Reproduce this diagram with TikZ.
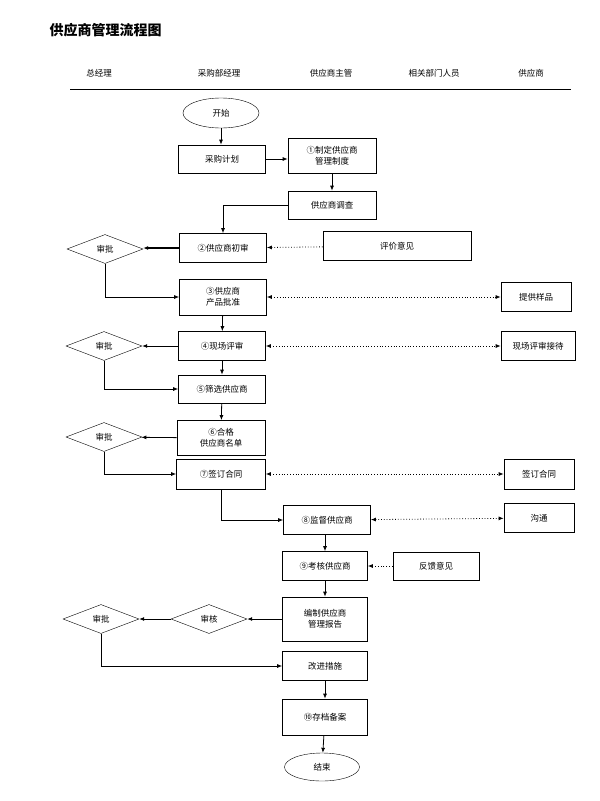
\documentclass[tikz,border=0pt]{standalone}
\usepackage{fontspec}
\setmainfont{Noto Sans CJK SC}
\usetikzlibrary{shapes.geometric,arrows.meta}
\begin{document}
\begin{tikzpicture}[x=1pt,y=-1pt,
  box/.style={draw,line width=0.7pt,inner sep=0pt,font=\fontsize{8.5}{11}\selectfont,align=center},
  dia/.style={draw,diamond,aspect=2.6,inner sep=0pt,minimum width=76pt,minimum height=29pt,font=\fontsize{8.5}{10}\selectfont},
  ell/.style={draw,ellipse,inner sep=0pt,font=\fontsize{8.5}{10}\selectfont},
  hd/.style={font=\fontsize{8.5}{10}\selectfont},
  arr/.style={-{Latex[length=5pt,width=4pt]},line width=0.8pt},
  dot/.style={{Latex[length=5pt,width=4pt]}-{Latex[length=5pt,width=4pt]},dotted,line width=0.8pt},
  dot1/.style={-{Latex[length=5pt,width=4pt]},dotted,line width=0.8pt}]
\useasboundingbox (0,0) rectangle (600,801);
\node[anchor=west,font=\fontsize{14}{16}\bfseries\selectfont] (title) at (46,30) {供应商管理流程图};
\node[hd] (h1) at (99,73) {总经理};
\node[hd] (h2) at (219,73) {采购部经理};
\node[hd] (h3) at (331,73) {供应商主管};
\node[hd] (h4) at (434,73) {相关部门人员};
\node[hd] (h5) at (531,73) {供应商};
\draw[line width=0.6pt] (70,89) -- (571,89);

\node[ell,minimum width=76pt,minimum height=30pt] (start) at (221,113) {开始};
\node[box,minimum width=87pt,minimum height=28pt] (plan) at (222,159) {采购计划};
\node[box,minimum width=88pt,minimum height=35pt] (s1) at (332,156) {①制定供应商\\管理制度};
\node[box,minimum width=88pt,minimum height=28pt] (inv) at (332,205) {供应商调查};
\node[box,minimum width=87pt,minimum height=29pt] (s2) at (223,248) {②供应商初审};
\node[box,minimum width=148pt,minimum height=29pt] (eval) at (397,246) {评价意见};
\node[dia] (d1) at (105,249) {审批};
\node[box,minimum width=87pt,minimum height=36pt] (s3) at (223,297) {③供应商\\产品批准};
\node[box,minimum width=70pt,minimum height=29pt] (samp) at (536,297) {提供样品};
\node[box,minimum width=87pt,minimum height=29pt] (s4) at (222,346) {④现场评审};
\node[dia] (d2) at (104,346) {审批};
\node[box,minimum width=74pt,minimum height=29pt] (recv) at (538,346) {现场评审接待};
\node[box,minimum width=87pt,minimum height=28pt] (s5) at (222,389) {⑤筛选供应商};
\node[box,minimum width=88pt,minimum height=35pt] (s6) at (221,438) {⑥合格\\供应商名单};
\node[dia] (d3) at (104,437) {审批};
\node[box,minimum width=89pt,minimum height=30pt] (s7) at (221,474) {⑦签订合同};
\node[box,minimum width=70pt,minimum height=30pt] (sign) at (539,474) {签订合同};
\node[box,minimum width=87pt,minimum height=29pt] (s8) at (327,520) {⑧监督供应商};
\node[box,minimum width=70pt,minimum height=29pt] (comm) at (539,518) {沟通};
\node[box,minimum width=85pt,minimum height=29pt] (s9) at (325,566) {⑨考核供应商};
\node[box,minimum width=86pt,minimum height=28pt] (fb) at (436,566) {反馈意见};
\node[box,minimum width=85pt,minimum height=44pt] (rep) at (325,619) {编制供应商\\管理报告};
\node[dia] (d5) at (209,619) {审核};
\node[dia] (d4) at (101,619) {审批};
\node[box,minimum width=85pt,minimum height=29pt] (imp) at (325,666) {改进措施};
\node[box,minimum width=85pt,minimum height=36pt] (s10) at (325,717) {⑩存档备案};
\node[ell,minimum width=75pt,minimum height=28pt] (end) at (322,767) {结束};

\draw[arr] (start) -- (start |- plan.north);
\draw[arr] (plan.east) -- (plan.east -| s1.west);
\draw[arr] (s1.south) -- (inv.north);
\draw[arr] (inv.west) -| (s2.north);
\draw[arr,line width=1.4pt] (s2.west) -- (s2.west -| d1.east);
\draw[dot1] (eval) -- (s2);
\draw[arr] (d1.south) |- (s3.west);
\draw[dot] (s3) -- (samp);
\draw[arr] (s3) -- (s4);
\draw[arr] (s4) -- (d2);
\draw[dot] (s4) -- (recv);
\draw[arr] (d2.south) |- (s5.west);
\draw[arr] (s4) -- (s5);
\draw[arr] (s5) -- (s6);
\draw[arr] (s6) -- (d3);
\draw[arr] (d3.south) |- (s7.west);
\draw[dot] (s7) -- (sign);
\draw[arr] (s7.south) |- (s8.west);
\draw[dot] (s8) -- (comm);
\draw[arr] (s9.north |- s8.south) -- (s9.north);
\draw[dot1] (fb) -- (s9);
\draw[arr] (s9) -- (rep);
\draw[arr] (rep) -- (d5);
\draw[arr] (d5) -- (d4);
\draw[arr] (d4.south) |- (imp.west);
\draw[arr] (imp) -- (s10);
\draw[arr] (s10) -- (end);
\end{tikzpicture}
\end{document}
